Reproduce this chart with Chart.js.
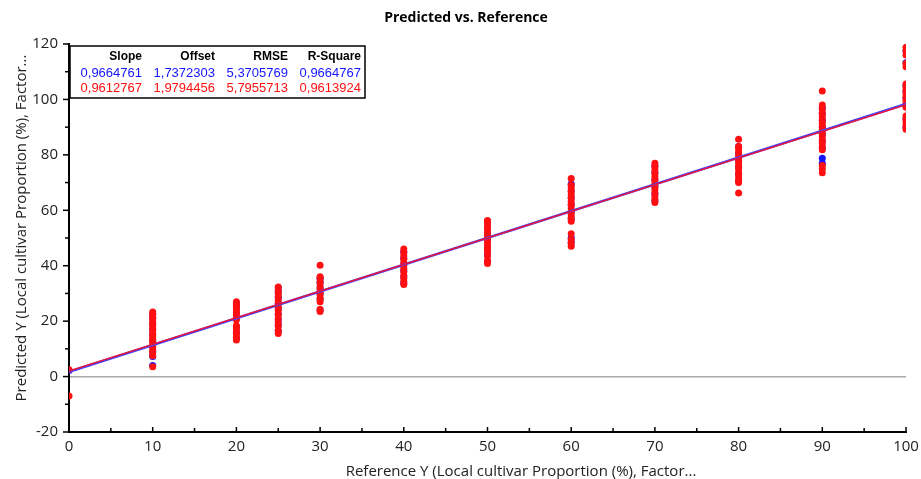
<!DOCTYPE html>
<html>
<head>
<meta charset="utf-8">
<script src="https://cdn.jsdelivr.net/npm/chart.js@4/dist/chart.umd.min.js"></script>
<style>
  html, body { margin: 0; padding: 0; background: #fff; }
  #wrap { width: 921px; height: 479px; }
</style>
</head>
<body>
<div id="wrap"><canvas id="chart" width="921" height="479"></canvas></div>
<script>
// Niveles de referencia (eje X)
const levels = [0, 10, 20, 25, 30, 40, 50, 60, 70, 80, 90, 100]

// Predicciones, serie azul (calibración)
const blueY = [
  [2.2],
  [4, 7.2, 9, 11, 13, 15, 17, 19, 21, 22.6],
  [13.8, 16, 18, 21, 23, 25, 26.5],
  [16.5, 18.6, 20.5, 22.6, 24.5, 26.5, 28.5, 30.5, 32],
  [24, 28, 30, 32, 34, 35.5],
  [33.8, 36, 38.2, 40.5, 42.7, 45],
  [41.5, 44, 46.5, 49, 51.5, 54, 56],
  [48.5, 50, 57, 59.5, 62, 64.5, 67, 69.5],
  [63.5, 66, 68.5, 71, 73.5, 76],
  [70.5, 73, 75.5, 78, 80.5, 83],
  [77, 78.8, 82.5, 85, 87.5, 90, 92.5, 95, 97],
  [90, 93, 98, 100.5, 103, 105, 113.2, 117.5],
]

// Predicciones, serie roja (validación)
const redY = [
  [2.5, -7],
  [3.5, 7.5, 8.5, 9.5, 10.5, 11.5, 12.5, 13.5, 14.5, 15.5, 16.5, 17.5, 18.5, 19.5, 20.5, 21.5, 22.5, 23.3],
  [13.2, 14.2, 15.3, 16.4, 17.5, 18.3, 20.5, 21.5, 22.4, 23.3, 24.2, 25.2, 26.1, 27],
  [15.5, 16.6, 18.2, 19.5, 21, 22.4, 23.8, 25, 26.3, 27.5, 28.8, 30, 31, 32.3],
  [23.5, 24.3, 27, 28.2, 29.4, 30.6, 31.8, 33, 34.2, 35.4, 36, 40.2],
  [33.2, 34.3, 35.4, 36.6, 37.8, 39, 40, 41.2, 42.4, 43.6, 44.8, 46],
  [40.8, 41.8, 43.5, 45, 46.2, 47.4, 48.6, 49.8, 51, 52.2, 53.4, 54.6, 55.8, 56.3],
  [47, 48, 49.5, 51.5, 56, 57.2, 58.4, 59.6, 60.8, 62, 63.2, 64.4, 65.6, 66.8, 68, 69, 71.5],
  [62.8, 63.8, 65, 66.2, 67.4, 68.6, 69.8, 71, 72.2, 73.4, 74.6, 75.8, 77],
  [66.2, 70, 71.2, 72.4, 73.6, 75, 76.2, 77.4, 78.6, 79.8, 81, 82.2, 83, 85.6],
  [73.5, 75, 76.2, 81.8, 83, 84.2, 85.4, 86.6, 87.8, 89, 90.2, 91.4, 92.6, 93.8, 95, 96.5, 98, 103],
  [89.2, 90.4, 91.6, 92.8, 94, 97.2, 98.4, 99.6, 100.8, 102, 103.2, 104.4, 105.6, 111.8, 113, 116, 117.6, 118.8],
]

// Tabla de estadísticos
const statHeaders = ['Slope', 'Offset', 'RMSE', 'R-Square']
const blueStats = ['0,9664761', '1,7372303', '5,3705769', '0,9664767']
const redStats = ['0,9612767', '1,9794456', '5,7955713', '0,9613924']

// Rectas de regresión (pendiente y ordenada)
const blueFit = [0.9664761, 1.7372303]
const redFit = [0.9612767, 1.9794456]

const BLUE = '#1414ff'
const RED = '#ff1010'
const FONT = "'Open Sans', sans-serif"

const toPoints = (groups) =>
  groups.flatMap((ys, i) => ys.map((y) => ({ x: levels[i], y })))

const fitLine = ([slope, offset]) => [
  { x: 0, y: offset },
  { x: 100, y: offset + slope * 100 },
]

// Dibuja título, ejes, marcas y tabla
const decorations = {
  id: 'decorations',
  afterDraw(chart) {
    const { ctx, chartArea, scales } = chart
    const xs = scales.x
    const ys = scales.y
    ctx.save()

    // Marcas del eje Y (hacia fuera)
    ctx.strokeStyle = '#000'
    ctx.lineWidth = 1.5
    for (let v = -20; v <= 120; v += 10) {
      const py = ys.getPixelForValue(v)
      const len = v % 20 === 0 ? 6 : 4
      ctx.beginPath()
      ctx.moveTo(chartArea.left - len, py)
      ctx.lineTo(chartArea.left, py)
      ctx.stroke()
    }
    // Marcas del eje X (hacia dentro)
    for (let v = 0; v <= 100; v += 5) {
      const px = xs.getPixelForValue(v)
      const len = v % 10 === 0 ? 5 : 4
      ctx.beginPath()
      ctx.moveTo(px, chartArea.bottom)
      ctx.lineTo(px, chartArea.bottom - len)
      ctx.stroke()
    }

    // Título
    ctx.fillStyle = '#000'
    ctx.font = `bold 14px ${FONT}`
    ctx.textAlign = 'center'
    ctx.textBaseline = 'middle'
    ctx.fillText('Predicted vs. Reference', 466, 18)

    // Títulos de ejes
    ctx.font = `15px ${FONT}`
    ctx.fillStyle = '#222'
    ctx.fillText('Reference Y (Local cultivar Proportion (%), Factor...', 521, 472)
    ctx.save()
    ctx.translate(22, 228)
    ctx.rotate(-Math.PI / 2)
    ctx.fillText('Predicted Y (Local cultivar Proportion (%), Factor...', 0, 0)
    ctx.restore()

    // Tabla de estadísticos
    ctx.fillStyle = '#fff'
    ctx.fillRect(70, 46, 295, 52)
    ctx.strokeStyle = '#000'
    ctx.lineWidth = 1.5
    ctx.strokeRect(70, 46, 295, 52)
    const colRight = [142, 215, 288, 361]
    ctx.textAlign = 'right'
    ctx.font = "bold 12px 'Liberation Sans', Arial, sans-serif"
    ctx.fillStyle = '#000'
    statHeaders.forEach((h, i) => ctx.fillText(h, colRight[i], 57))
    ctx.font = "13px 'Liberation Sans', Arial, sans-serif"
    ctx.fillStyle = BLUE
    blueStats.forEach((s, i) => ctx.fillText(s, colRight[i], 73))
    ctx.fillStyle = RED
    redStats.forEach((s, i) => ctx.fillText(s, colRight[i], 88))

    ctx.restore()
  },
}

new Chart(document.getElementById('chart'), {
  type: 'scatter',
  data: {
    datasets: [
      {
        type: 'line',
        data: fitLine(redFit),
        borderColor: '#e8163a',
        borderWidth: 1.5,
        pointRadius: 0,
      },
      {
        type: 'line',
        data: fitLine(blueFit),
        borderColor: '#4040ff',
        borderWidth: 2.5,
        pointRadius: 0,
      },
      {
        data: toPoints(redY),
        backgroundColor: RED,
        borderWidth: 0,
        pointRadius: 3.5,
      },
      {
        data: toPoints(blueY),
        backgroundColor: BLUE,
        borderWidth: 0,
        pointRadius: 3.5,
      },
    ],
  },
  options: {
    responsive: false,
    animation: false,
    layout: { padding: { top: 44, right: 0, left: 0, bottom: 0 } },
    plugins: {
      legend: { display: false },
      title: { display: false },
      tooltip: { enabled: false },
    },
    scales: {
      x: {
        type: 'linear',
        min: 0,
        max: 100,
        ticks: {
          stepSize: 10,
          padding: 6,
          color: '#222',
          font: { family: FONT, size: 15 },
        },
        grid: { display: false, drawTicks: false },
        border: { display: true, color: '#000', width: 2 },
        afterFit: (scale) => {
          scale.height = 47
          scale.paddingRight = 15
        },
      },
      y: {
        min: -20,
        max: 120,
        ticks: {
          stepSize: 10,
          padding: 11,
          color: '#222',
          font: { family: FONT, size: 15 },
          callback: (v) => (v % 20 === 0 ? v : ''),
        },
        grid: {
          drawTicks: false,
          color: (c) => (c.tick && c.tick.value === 0 ? '#a8a8a8' : 'rgba(0,0,0,0)'),
          lineWidth: 1.5,
        },
        border: { display: true, color: '#000', width: 2 },
        afterFit: (scale) => { scale.width = 69 },
      },
    },
  },
  plugins: [decorations],
})
</script>
</body>
</html>
